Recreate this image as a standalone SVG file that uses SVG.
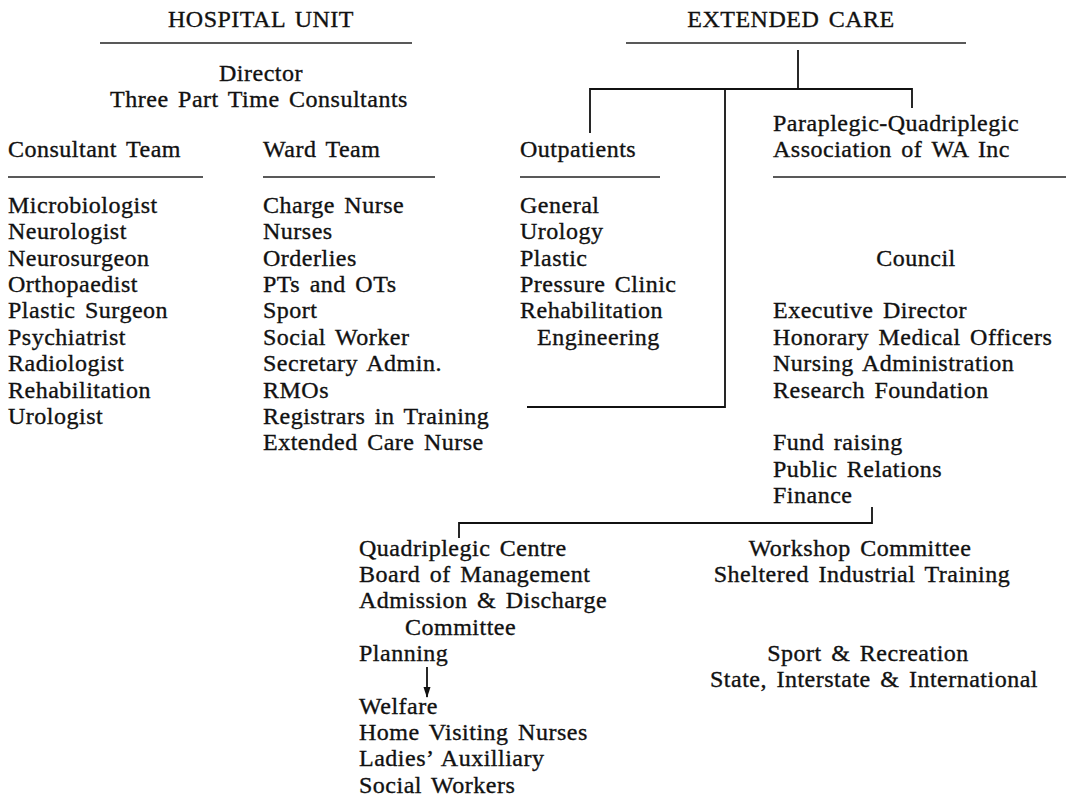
<svg xmlns="http://www.w3.org/2000/svg" width="1069" height="796" viewBox="0 0 1069 796">
  <defs>
    <style>
      text { font-family: "Liberation Serif", "Times New Roman", serif; font-size: 24px; fill: #111; stroke: #111; stroke-width: 0.35px; letter-spacing: 0.5px; word-spacing: 3px; }
      .c { text-anchor: middle; }
      .rule { stroke: #222; stroke-width: 1.5; fill: none; }
      .link { stroke: #111; stroke-width: 1.8; fill: none; }
    </style>
    <marker id="arrowhead" markerWidth="11" markerHeight="8" refX="10" refY="3.5" orient="auto" markerUnits="userSpaceOnUse">
      <path d="M0,0 L11,3.5 L0,7 Z" fill="#111"/>
    </marker>
  </defs>
  <rect width="1069" height="796" fill="#fff"/>

  <!-- Hospital unit -->
  <g id="hospital-unit">
    <text class="c" x="261" y="27">HOSPITAL UNIT</text>
    <line class="rule" x1="100" y1="43" x2="412" y2="43"/>
    <text class="c" x="261" y="81">Director</text>
    <text class="c" x="259" y="107">Three Part Time Consultants</text>
  </g>

  <g id="consultant-team">
    <text x="8" y="157">Consultant Team</text>
    <line class="rule" x1="8" y1="177" x2="203" y2="177"/>
    <text x="8" y="213">Microbiologist</text>
    <text x="8" y="239.4">Neurologist</text>
    <text x="8" y="265.7">Neurosurgeon</text>
    <text x="8" y="292.1">Orthopaedist</text>
    <text x="8" y="318.4">Plastic Surgeon</text>
    <text x="8" y="344.8">Psychiatrist</text>
    <text x="8" y="371.1">Radiologist</text>
    <text x="8" y="397.5">Rehabilitation</text>
    <text x="8" y="423.8">Urologist</text>
  </g>

  <g id="ward-team">
    <text x="263" y="157">Ward Team</text>
    <line class="rule" x1="263" y1="177" x2="435" y2="177"/>
    <text x="263" y="213">Charge Nurse</text>
    <text x="263" y="239.4">Nurses</text>
    <text x="263" y="265.7">Orderlies</text>
    <text x="263" y="292.1">PTs and OTs</text>
    <text x="263" y="318.4">Sport</text>
    <text x="263" y="344.8">Social Worker</text>
    <text x="263" y="371.1">Secretary Admin.</text>
    <text x="263" y="397.5">RMOs</text>
    <text x="263" y="423.8">Registrars in Training</text>
    <text x="263" y="450.2">Extended Care Nurse</text>
  </g>

  <!-- Extended care -->
  <g id="extended-care">
    <text class="c" x="791" y="27">EXTENDED CARE</text>
    <line class="rule" x1="626" y1="43" x2="966" y2="43"/>
  </g>

  <g id="outpatients">
    <text x="520" y="157">Outpatients</text>
    <line class="rule" x1="520" y1="177" x2="660" y2="177"/>
    <text x="520" y="213">General</text>
    <text x="520" y="239.4">Urology</text>
    <text x="520" y="265.7">Plastic</text>
    <text x="520" y="292.1">Pressure Clinic</text>
    <text x="520" y="318.4">Rehabilitation</text>
    <text x="537" y="344.8">Engineering</text>
  </g>

  <g id="association">
    <text x="773" y="131">Paraplegic-Quadriplegic</text>
    <text x="773" y="157">Association of WA Inc</text>
    <line class="rule" x1="773" y1="177" x2="1066" y2="177"/>
    <text class="c" x="916" y="265.7">Council</text>
    <text x="773" y="318.4">Executive Director</text>
    <text x="773" y="344.8">Honorary Medical Officers</text>
    <text x="773" y="371.1">Nursing Administration</text>
    <text x="773" y="397.5">Research Foundation</text>
    <text x="773" y="450.2">Fund raising</text>
    <text x="773" y="476.5">Public Relations</text>
    <text x="773" y="502.9">Finance</text>
  </g>

  <g id="quadriplegic-centre">
    <text x="359" y="555.5">Quadriplegic Centre</text>
    <text x="359" y="581.9">Board of Management</text>
    <text x="359" y="608.2">Admission &amp; Discharge</text>
    <text x="405" y="634.6">Committee</text>
    <text x="359" y="660.9">Planning</text>
  </g>

  <g id="welfare">
    <text x="359" y="713.6">Welfare</text>
    <text x="359" y="740">Home Visiting Nurses</text>
    <text x="359" y="766.3">Ladies’ Auxilliary</text>
    <text x="359" y="792.7">Social Workers</text>
  </g>

  <g id="workshop">
    <text class="c" x="860" y="555.5">Workshop Committee</text>
    <text class="c" x="862" y="581.9">Sheltered Industrial Training</text>
  </g>

  <g id="sport">
    <text class="c" x="868" y="660.9">Sport &amp; Recreation</text>
    <text class="c" x="874" y="687.3">State, Interstate &amp; International</text>
  </g>

  <!-- Connectors -->
  <g id="connectors">
    <path class="link" d="M798,50 V89"/>
    <path class="link" d="M590,133 V89 H912 V108"/>
    <path class="link" d="M725,89 V407 H527"/>
    <path class="link" d="M459,538 V523 H872 V507"/>
    <path class="link" d="M427,667 V697" stroke-width="1.5" marker-end="url(#arrowhead)"/>
  </g>
</svg>
